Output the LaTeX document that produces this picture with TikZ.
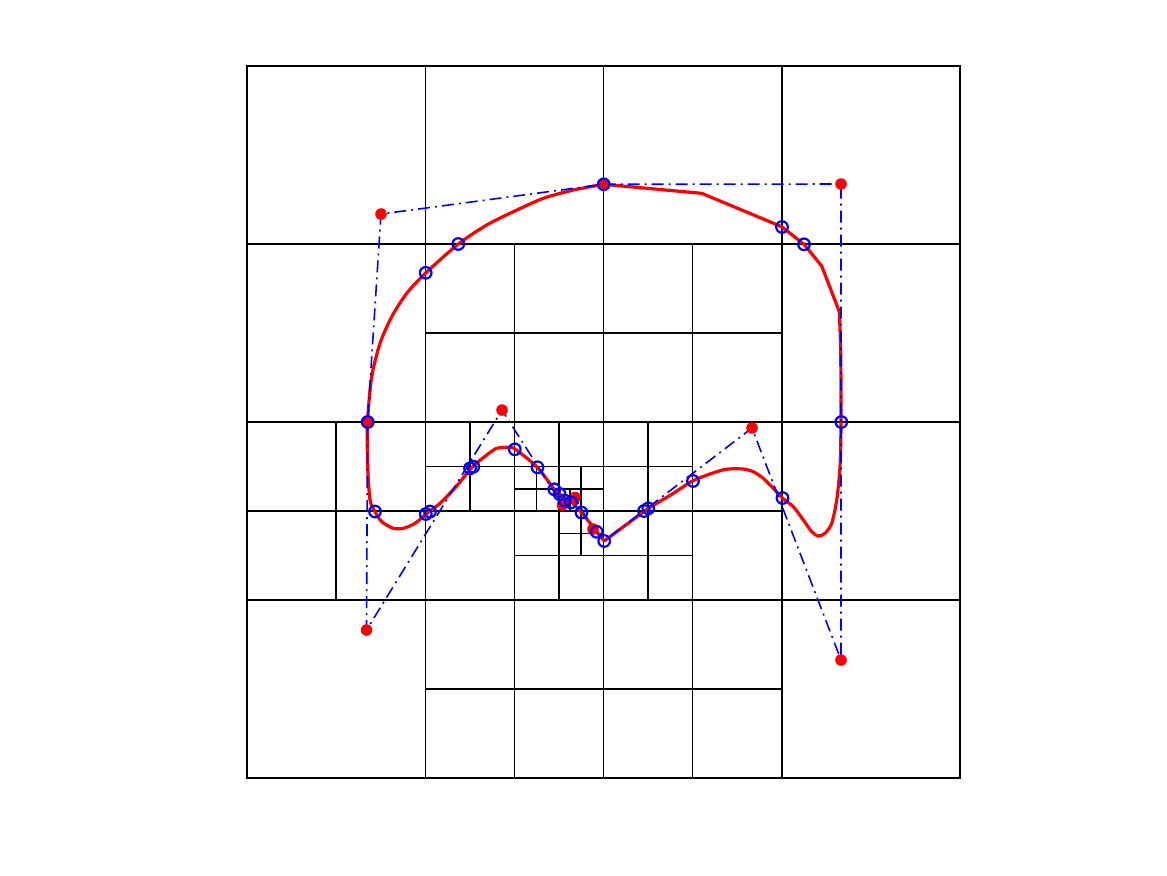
\documentclass[tikz,border=0pt]{standalone}
\tikzset{
  gridline/.style={black, line width=0.75pt},
  boxline/.style={black, line width=1.05pt},
  curveline/.style={red, line width=1.6pt, line join=round},
  polyline/.style={blue, line width=0.8pt, dash pattern=on 6pt off 2.5pt on 1pt off 2.5pt},
  ctrlpt/.style={fill=red, draw=none},
  hitpt/.style={draw=blue, line width=1.1pt, fill=none},
}
\begin{document}
\begin{tikzpicture}[x=0.5pt,y=-0.5pt]
\useasboundingbox (0,0) rectangle (1167,875);
\fill[white] (0,0) rectangle (1167,875);
% quadtree grid in cell units
\begin{scope}[shift={(247,778)}, xscale=89.125, yscale=-89]
  \draw[gridline] (2,0)--(2,8) (4,0)--(4,8) (6,0)--(6,8)
                  (0,2)--(8,2) (0,4)--(8,4) (0,6)--(8,6);
  \draw[gridline] (1,2)--(1,4) (3,0)--(3,6) (5,0)--(5,6)
                  (2,1)--(6,1) (0,3)--(6,3) (2,5)--(6,5);
  \draw[gridline] (2.5,3)--(2.5,4) (3.5,2)--(3.5,4) (4.5,2)--(4.5,4)
                  (2,3.5)--(5,3.5) (3,2.5)--(5,2.5);
  \draw[gridline] (3.25,3)--(3.25,3.5) (3.75,2.5)--(3.75,3.5)
                  (3,3.25)--(4,3.25) (3.5,2.75)--(4,2.75);
  \draw[gridline] (3.625,3)--(3.625,3.25) (3.5,3.125)--(3.75,3.125);
  \draw[boxline] (0,0) rectangle (8,8);
\end{scope}
% red curve
\draw[curveline] plot[smooth, tension=0.45] coordinates {
 (596.7,531.5) (581.5,512.5) (571.5,502.3) (565,500) (560,494) (554.3,489.3)
 (537,467) (515,449) (508.3,447.3) (496.7,448.3) (486.7,455) (472,467.3)
 (456.7,486) (440,503.3) (428,512.5) (415,523.3) (403.3,528.3) (393.3,528.3)
 (381.7,521.7) (375,511.7) (370,500) (367.7,466.7) (367.5,422.3) (371.7,376.7)
 (380,343.3) (391.7,316.7) (406.7,293.3) (425.7,273) (458.3,244) (486.7,225)
 (513.3,211.7) (543.3,198.3) (573.3,190) (603.7,184.3)}
 -- (701.7,193.3) -- (781.7,226.7) -- (804,244.3) -- (821.7,266) -- (839.3,311.7)
 -- plot[smooth, tension=0.45] coordinates {
 (839.3,311.7) (840.7,353) (841,422)
 (840,466.7) (836.7,500) (831.7,523.3) (825,533.3) (818.3,536) (811.7,531.7)
 (803.3,520) (793.3,506.7) (782.7,498.3) (773.3,488.3) (763.3,478.3)
 (753.3,471.7) (743.3,469) (728.3,469) (716.7,471.7) (693.3,480.5)
 (673.3,493.3) (648.3,508.3)} -- (604.2,541) -- cycle;
% control polygon
\draw[polyline] (603.7,184.3) -- (841,184) -- (841,660) -- (752,428) -- (604.2,541)
  -- (593,529) -- (575,497.5) -- (562.5,505) -- (502,410) -- (366.5,630)
  -- (367.5,422) -- (381,214) -- cycle;
% control points
\foreach \x/\y in {381/214, 841/184, 841/660, 752/428, 502/410, 366.5/630,
  593/529, 575/497.5, 562.5/505, 603.7/184.3, 367.5/422}
  \fill[ctrlpt] (\x,\y) circle[radius=5.8];
% intersection markers
\foreach \x/\y in {603.7/184.3, 458.3/244, 425.7/272.8, 782/227, 804/244.3,
  841.3/422, 367.7/422, 375/511.5, 425.8/514, 430/511.5, 470/468.3, 473.3/466.7,
  514.8/449.3, 537.5/467.3, 554.3/489.3, 559.6/494, 564.5/500.5, 571/502.3,
  581.5/512.5, 596.7/531.8, 604.2/541, 644/511, 648.3/508.3, 693/481, 782.5/498}
  \draw[hitpt] (\x,\y) circle[radius=5.8];
\end{tikzpicture}
\end{document}
